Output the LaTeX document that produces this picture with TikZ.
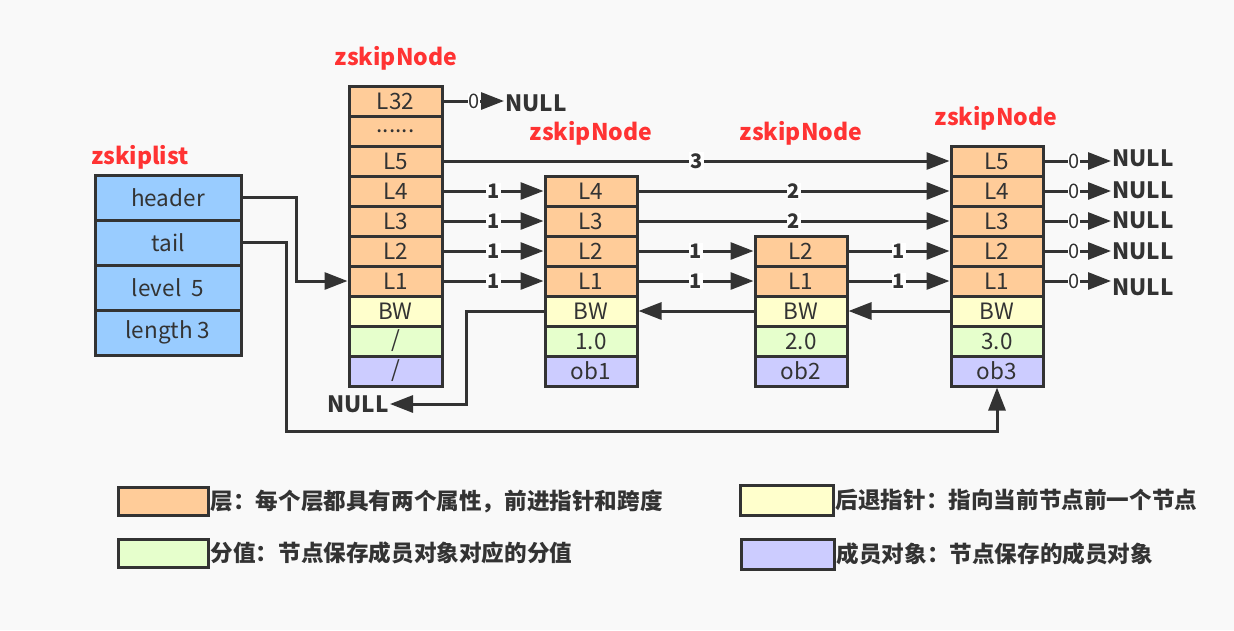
\documentclass[tikz,border=0pt]{standalone}
\usepackage{fontspec}
\setmainfont{Noto Sans CJK SC}
\usepackage{tikz}
\usetikzlibrary{positioning,arrows.meta}
\definecolor{linie}{HTML}{333333}
\definecolor{ebene}{HTML}{FFCC99}
\definecolor{rueck}{HTML}{FFFFCC}
\definecolor{wert}{HTML}{E6FFCC}
\definecolor{objekt}{HTML}{CCCCFF}
\definecolor{liste}{HTML}{99CCFF}
\definecolor{rot}{HTML}{FF3333}
\definecolor{hinter}{HTML}{F9F9F9}
\newcommand{\schraeg}{/}
\newcommand{\punkte}{......}

\begin{document}
\begin{tikzpicture}[x=1pt, y=-1pt,
  font=\fontsize{22.5}{26}\selectfont, text=linie,
  >={Triangle[length=23pt,width=17pt]},   %Voreinstellung fuer Pfeilspitzen
  feld/.style={draw=linie, line width=3pt, minimum width=92pt, minimum height=30pt, inner sep=0pt},
  lfeld/.style={feld, fill=liste, minimum width=146pt, minimum height=45pt},
  titel/.style={text=rot, font=\fontsize{23}{26}\selectfont\bfseries},
  null/.style={font=\fontsize{22.5}{26}\selectfont\bfseries, inner sep=1pt},
  zeiger/.style={->, draw=linie, line width=3pt},
  zahl/.style={fill=white, inner sep=1pt, font=\fontsize{20}{22}\selectfont\bfseries},
  nullzahl/.style={fill=white, inner sep=0.5pt, font=\fontsize{20}{22}\selectfont},
  legbox/.style={draw=linie, line width=3pt, minimum width=90pt, minimum height=28pt, inner sep=0pt},
  legtext/.style={anchor=west, inner sep=1pt, font=\fontsize{22.6}{26}\selectfont\bfseries}]

% Hintergrund
\fill[hinter] (0,0) rectangle (1234,630);
\useasboundingbox (0,0) rectangle (1234,630);

% zskiplist
\node[titel] (t-zl) at (140,157) {zskiplist};
\foreach \t/\n [count=\i] in {header/hd, tail/tl, level~~5/lv, length 3/ln}
  \node[lfeld] (zl-\n) at (168,152.5+45*\i) {\t};

% Kopfknoten
\node[titel] (t-k0) at (396,58) {zskipNode};
\foreach \t/\f/\n [count=\i] in {L32/ebene/l32, \punkte/ebene/dd, L5/ebene/l5, L4/ebene/l4, L3/ebene/l3,
    L2/ebene/l2, L1/ebene/l1, BW/rueck/bw, \schraeg/wert/sc, \schraeg/objekt/ob}
  \node[feld, fill=\f, minimum width=93pt] (k0-\n) at (395.5,71+30*\i) {\t};

% Knoten 1
\node[titel] (t-k1) at (591,133) {zskipNode};
\foreach \t/\f/\n [count=\i] in {L4/ebene/l4, L3/ebene/l3, L2/ebene/l2, L1/ebene/l1,
    BW/rueck/bw, 1.0/wert/sc, ob1/objekt/ob}
  \node[feld, fill=\f] (k1-\n) at (591,161+30*\i) {\t};

% Knoten 2
\node[titel] (t-k2) at (801,133) {zskipNode};
\foreach \t/\f/\n [count=\i] in {L2/ebene/l2, L1/ebene/l1, BW/rueck/bw, 2.0/wert/sc, ob2/objekt/ob}
  \node[feld, fill=\f] (k2-\n) at (801,221+30*\i) {\t};

% Knoten 3
\node[titel] (t-k3) at (996,118) {zskipNode};
\foreach \t/\f/\n [count=\i] in {L5/ebene/l5, L4/ebene/l4, L3/ebene/l3, L2/ebene/l2, L1/ebene/l1,
    BW/rueck/bw, 3.0/wert/sc, ob3/objekt/ob}
  \node[feld, fill=\f] (k3-\n) at (997,131+30*\i) {\t};

% Vorwaertszeiger mit Spannen
\draw[zeiger] (k0-l5.east) -- node[zahl]{3} (k3-l5.west);
\foreach \n in {l4,l3,l2,l1}
  \draw[zeiger] (k0-\n.east) -- node[zahl]{1} (k1-\n.west);
\foreach \n in {l4,l3}
  \draw[zeiger] (k1-\n.east) -- node[zahl]{2} (k3-\n.west);
\foreach \n in {l2,l1} {
  \draw[zeiger] (k1-\n.east) -- node[zahl]{1} (k2-\n.west);
  \draw[zeiger] (k2-\n.east) -- node[zahl]{1} (k3-\n.west);
}

% NULL-Zeiger
\node[null, anchor=west] (null-l32) at (504,103) {NULL};
\draw[zeiger] (k0-l32.east) -- node[nullzahl]{0} (k0-l32.east -| null-l32.west);
\foreach \n/\y in {l5/158, l4/190, l3/220, l2/251, l1/287} {
  \node[null, anchor=west] (null-\n) at (1111,\y) {NULL};
  \draw[zeiger] (k3-\n.east) -- node[nullzahl, pos=0.45]{0} (k3-\n.east -| null-\n.west);
}

% Rueckwaertszeiger
\draw[zeiger] (k3-bw.west) -- (k2-bw.east);
\draw[zeiger] (k2-bw.west) -- (k1-bw.east);
\node[null, anchor=east] (null-bw) at (390,404) {NULL};
\draw[zeiger] (k1-bw.west) -- ++(-77,0) |- (null-bw.east);

% header und tail
\draw[zeiger] (zl-hd.east) -- ++(54,0) |- (k0-l1.west);
\coordinate (knick) at (286,431);
\draw[zeiger] (zl-tl.east) -| (knick) -| (k3-ob.south);

% Legende
\node[legbox, fill=ebene] (lg-eb) at (163,501) {};
\node[legtext] (lt-eb) at (lg-eb.east) {层：每个层都具有两个属性，前进指针和跨度};
\node[legbox, fill=wert] (lg-wt) at (163,553) {};
\node[legtext] (lt-wt) at (lg-wt.east) {分值：节点保存成员对象对应的分值};
\node[legbox, fill=rueck, minimum width=93pt, minimum height=30pt] (lg-rk) at (786.5,500) {};
\node[legtext] (lt-rk) at (lg-rk.east) {后退指针：指向当前节点前一个节点};
\node[legbox, fill=objekt, minimum width=93pt, minimum height=30pt] (lg-ob) at (787.5,554) {};
\node[legtext] (lt-ob) at (lg-ob.east) {成员对象：节点保存的成员对象};
\end{tikzpicture}
\end{document}
